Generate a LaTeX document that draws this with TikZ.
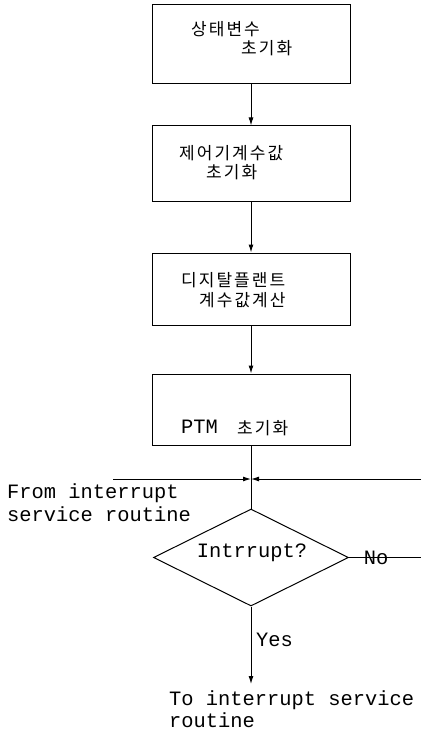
\documentclass[tikz,border=0pt]{standalone}
\usepackage{fontspec}
\setmonofont{Liberation Mono}
\newfontfamily\kor[LetterSpace=12]{Noto Sans CJK KR}
\usetikzlibrary{arrows.meta,shapes.geometric}
\tikzset{
  box/.style={draw,line width=1pt,minimum width=198pt,inner sep=0pt},
  kt/.style={font=\kor\fontsize{17}{18}\selectfont,anchor=west,inner sep=0pt},
  tt/.style={font=\ttfamily\fontsize{20.4}{20}\selectfont,anchor=west,inner sep=0pt},
  conn/.style={line width=1pt},
  arr/.style={line width=1pt,-{Latex[length=8pt,width=5pt]}},
}
\begin{document}
\begin{tikzpicture}[x=1pt,y=-1pt]
\useasboundingbox (0,0) rectangle (421,730);
% boxes
\node[box,minimum height=79pt] (b1) at (251,44.5) {};
\node[box,minimum height=75pt] (b2) at (251,163.5) {};
\node[box,minimum height=72pt] (b3) at (251,289) {};
\node[box,minimum height=71pt] (b4) at (251,409.5) {};
% box texts
\node[kt] (t1a) at (191,29) {상태변수};
\node[kt] (t1b) at (241,48) {초기화};
\node[kt] (t2a) at (179,153) {제어기계수값};
\node[kt] (t2b) at (206,172) {초기화};
\node[kt] (t3a) at (181,280) {디지탈플랜트};
\node[kt] (t3b) at (199,300) {계수값계산};
\node[tt] (t4a) at (181,427) {PTM};
\node[kt] (t4b) at (237,428) {초기화};
% arrows between boxes
\draw[arr] (b1.south) -- (b2.north);
\draw[arr] (b2.south) -- (b3.north);
\draw[arr] (b3.south) -- (b4.north);
% junction
\coordinate (j) at (251,479);
\coordinate (jl) at (113,479);
\coordinate (jr) at (421,479);
\draw[arr] (jl) -- (j);
\draw[arr] (jr) -- (j);
% diamond
\node[draw,line width=1pt,diamond,aspect=2,minimum width=195pt,minimum height=97pt,inner sep=0pt] (d) at (251,557.5) {};
\node[tt,anchor=center] (dt) at (252,553) {Intrrupt?};
\draw[conn] (b4.south) -- (d.north);
% No branch
\coordinate (nr) at (421,557.5);
\node[tt,anchor=center] (no) at (376,558) {No};
\draw[conn] (d.east) -- (nr);
% Yes branch
\coordinate (yend) at (251,684);
\draw[arr] (d.south) -- (yend);
\node[tt] (yes) at (256,640) {Yes};
% labels
\node[tt] (from1) at (7,493) {From interrupt};
\node[tt] (from2) at (7,514) {service routine};
\node[tt] (to1) at (169,700) {To interrupt service};
\node[tt] (to2) at (169,720) {routine};
\end{tikzpicture}
\end{document}
